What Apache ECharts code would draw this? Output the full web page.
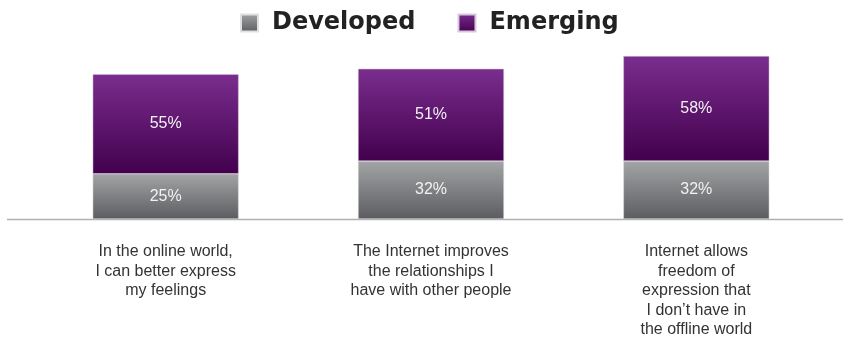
<!DOCTYPE html>
<html><head><meta charset="utf-8">
<script src="https://cdn.jsdelivr.net/npm/echarts@6/dist/echarts.min.js"></script>
<style>html,body{margin:0;padding:0;background:#fff}#c{width:843px;height:339px}</style>
</head><body><div id="c"></div>
<script>
const categories = [
  "In the online world,\nI can better express\nmy feelings",
  "The Internet improves\nthe relationships I\nhave with other people",
  "Internet allows\nfreedom of\nexpression that\nI don\u2019t have in\nthe offline world"
];
const developed = [25, 32, 32];
const emerging = [55, 51, 58];
const seriesNames = ["Developed", "Emerging"];

const chart = echarts.init(document.getElementById('c'));
const grad = (a, b) => new echarts.graphic.LinearGradient(0, 0, 0, 1, [{offset: 0, color: a}, {offset: 1, color: b}]);
const labelStyle = {show: true, position: 'inside', color: '#f2f2f2', fontSize: 16, fontFamily: 'Liberation Sans, sans-serif', formatter: p => p.value + '%'};
chart.setOption({
  animation: false,
  legend: {
    top: 6, left: 235, itemWidth: 17, itemHeight: 17, itemGap: 42,
    icon: 'rect',
    textStyle: {fontSize: 24, fontWeight: 'bold', color: '#222', fontFamily: 'DejaVu Sans', padding: [0, 0, 0, 9]},
    data: seriesNames
  },
  grid: {left: 33, right: 14, top: 38, bottom: 120, outerBoundsMode: 'none', containLabel: false},
  xAxis: {
    type: 'category', data: categories,
    axisLine: {show: false}, axisTick: {show: false},
    axisLabel: {margin: 23, color: '#333', fontSize: 16, lineHeight: 19.5, fontFamily: 'Liberation Sans, sans-serif', interval: 0}
  },
  yAxis: {type: 'value', min: 0, max: 100, show: false},
  graphic: [{type: 'line', shape: {x1: 7, y1: 219.5, x2: 843, y2: 219.5}, style: {stroke: '#b0b0b0', lineWidth: 1.5}}],
  series: [
    {name: seriesNames[0], type: 'bar', stack: 's', barWidth: '55%', data: developed,
     itemStyle: {color: grad('#a3a4a6', '#5c5d60'), borderColor: '#e0e0e0', borderWidth: 0.5}, label: labelStyle},
    {name: seriesNames[1], type: 'bar', stack: 's', barWidth: '55%', data: emerging,
     itemStyle: {color: grad('#7a2d8e', '#42004d'), borderColor: '#d8c8dc', borderWidth: 0.5}, label: labelStyle}
  ]
});
</script></body></html>
